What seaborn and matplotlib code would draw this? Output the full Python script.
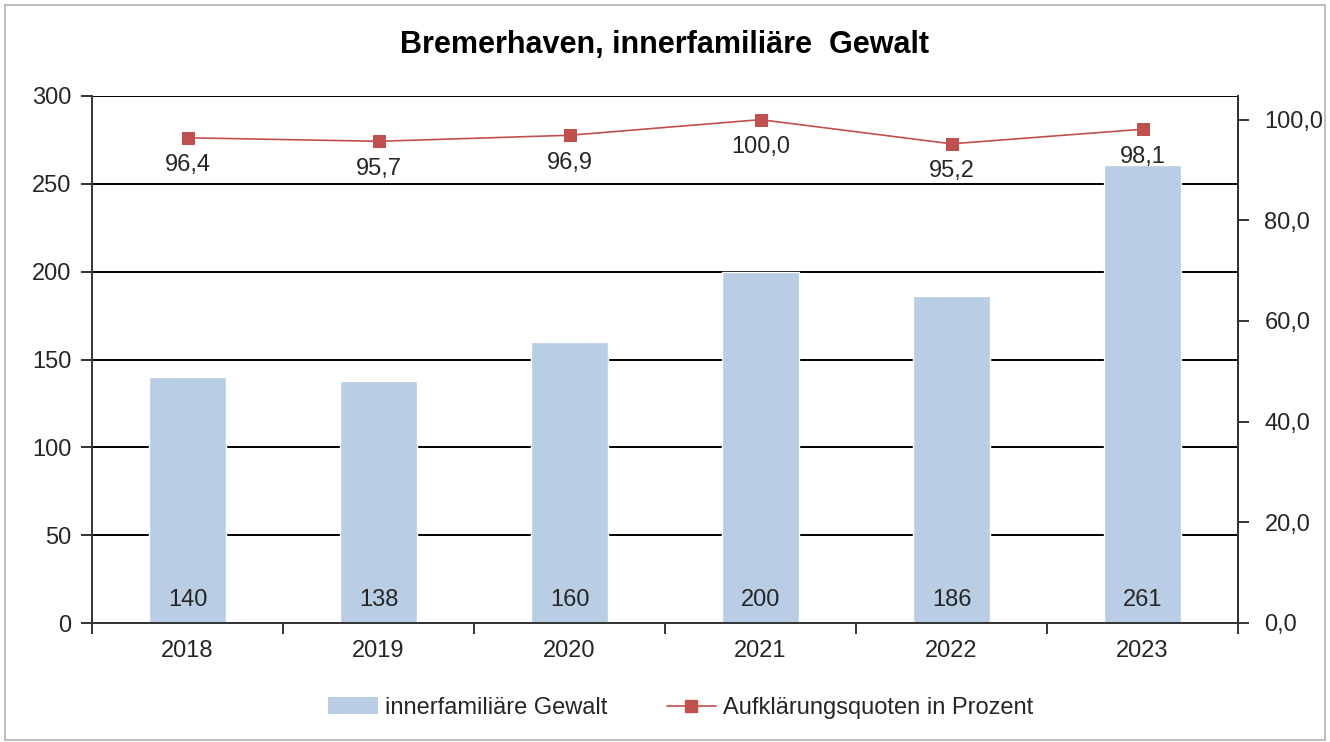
import numpy as np
import pandas as pd
import matplotlib
matplotlib.use('Agg')
import matplotlib.pyplot as plt
import seaborn as sns
from matplotlib.ticker import FuncFormatter, FixedLocator
from matplotlib.lines import Line2D
from matplotlib.patches import Patch, Rectangle

# Data
years = ['2018', '2019', '2020', '2021', '2022', '2023']
cases = [140, 138, 160, 200, 186, 261]
clearance_rate = [96.4, 95.7, 96.9, 100.0, 95.2, 98.1]

bar_color = '#B9CDE5'
line_color = '#C0504D'
text_color = '#262626'
fs = 17

sns.set_theme(style='white')
plt.rcParams['font.family'] = ['Liberation Sans', 'DejaVu Sans']

df = pd.DataFrame({'year': years, 'cases': cases, 'rate': clearance_rate})

fig = plt.figure(figsize=(13.3, 7.42), dpi=100)
ax = fig.add_axes([92 / 1330, 1 - 623 / 742, 1146 / 1330, 527 / 742])

# bars (primary axis)
sns.barplot(data=df, x='year', y='cases', color=bar_color, width=0.4,
            saturation=1, ax=ax, zorder=2)
ax.set_ylim(0, 300)
ax.set_xlim(-0.5, len(years) - 0.5)
ax.set_yticks(np.arange(0, 301, 50))
ax.yaxis.grid(True, color='black', linewidth=1.4, zorder=0)
ax.set_axisbelow(True)
ax.set_xlabel('')
ax.set_ylabel('')

for spine in ['left', 'bottom', 'right']:
    ax.spines[spine].set_color('#333333')
    ax.spines[spine].set_linewidth(1.4)
ax.spines['top'].set_visible(False)

ax.tick_params(axis='y', which='both', direction='out', length=8, width=1.4,
               color='#333333', labelsize=fs, labelcolor=text_color, left=True, pad=7)
ax.tick_params(axis='x', which='major', length=0, labelsize=fs,
               labelcolor=text_color, pad=12)
ax.xaxis.set_minor_locator(FixedLocator(np.arange(-0.5, len(years), 1.0)))
ax.tick_params(axis='x', which='minor', direction='out', length=8, width=1.4,
               color='#333333', bottom=True)

# case counts at the foot of each bar
for i, v in enumerate(cases):
    ax.text(i, 7, f'{v}', ha='center', va='bottom', fontsize=fs,
            color=text_color, zorder=5)

# clearance rate line (secondary axis)
ax2 = ax.twinx()
x_pos = np.arange(len(years))
sns.lineplot(x=x_pos, y=clearance_rate, ax=ax2, color=line_color, linewidth=1.2,
             marker='s', markersize=9, markeredgecolor=line_color,
             markerfacecolor=line_color, zorder=4)
ax2.set_ylim(0, 104.7)
ax2.set_yticks(np.arange(0, 101, 20))
ax2.yaxis.set_major_formatter(FuncFormatter(lambda v, p: f'{v:.1f}'.replace('.', ',')))
ax2.tick_params(axis='y', direction='out', length=8, width=1.4, color='#333333',
                labelsize=fs, labelcolor=text_color, right=True, pad=11)
for spine in ['top', 'left', 'bottom']:
    ax2.spines[spine].set_visible(False)
ax2.spines['right'].set_color('#333333')
ax2.spines['right'].set_linewidth(1.4)
ax2.set_xlim(-0.5, len(years) - 0.5)

for i, v in enumerate(clearance_rate):
    ax2.annotate(f'{v:.1f}'.replace('.', ','), (i, v), xytext=(0, -12),
                 textcoords='offset points', ha='center', va='top',
                 fontsize=fs, color=text_color, zorder=5)

# title
fig.text(0.5, 1 - 45 / 742, 'Bremerhaven, innerfamiliäre  Gewalt', ha='center',
         va='center', fontsize=22, fontweight='bold', color='black')

# legend
handles = [
    Patch(facecolor=bar_color, edgecolor='none'),
    Line2D([0], [0], color=line_color, linewidth=1.2, marker='s', markersize=9),
]
labels = ['innerfamiliäre Gewalt', 'Aufklärungsquoten in Prozent']
fig.legend(handles, labels, loc='center', bbox_to_anchor=(0.512, 1 - 708 / 742),
           ncol=2, frameon=False, fontsize=fs, handlelength=2.1,
           handletextpad=0.3, columnspacing=2.5, labelcolor=text_color)

# light border around the chart area
fig.patches.append(Rectangle((0.004, 0.003), 0.992, 0.99, transform=fig.transFigure,
                             fill=False, edgecolor='#BFBFBF', linewidth=1.5))

fig.savefig('out.png', dpi=100)
